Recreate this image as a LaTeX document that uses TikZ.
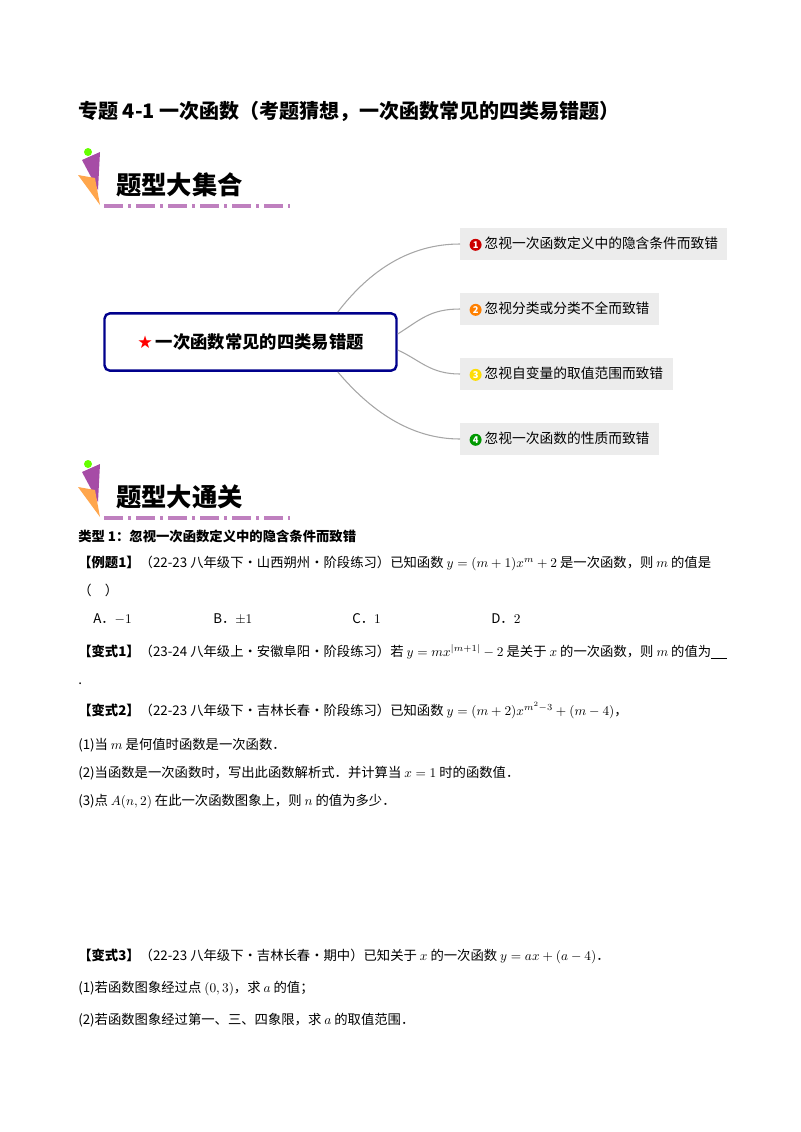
\documentclass[tikz,border=0pt]{standalone}
\usepackage{fontspec}
\setmainfont{Noto Sans CJK SC}
\newfontfamily\djvfont{DejaVu Sans}
\usetikzlibrary{calc}
\begin{document}
\begin{tikzpicture}[x=0.75pt,y=-0.75pt,
  txt/.style={anchor=base west,inner sep=0,font=\fontsize{10pt}{12pt}\selectfont},
  bx/.style={fill=gray!15,anchor=west,minimum height=24pt,inner xsep=7pt,font=\fontsize{10.3pt}{12pt}\selectfont},
  num/.style={circle,fill=#1,text=white,inner sep=0.6pt,minimum size=9pt,minimum height=9pt,font=\fontsize{7pt}{8pt}\selectfont\bfseries},
  br/.style={draw=gray!70,line width=0.8pt},
  hdr/.style={anchor=base west,inner sep=0,font=\fontsize{19pt}{20pt}\selectfont\bfseries}]
\useasboundingbox (0,0) rectangle (800,1132);
\node[anchor=base west,inner sep=0,font=\fontsize{15pt}{18pt}\selectfont\bfseries] (title) at (78,118) {专题 4-1 一次函数（考题猜想，一次函数常见的四类易错题）};
\foreach \yy/\tx/\nm in {150/题型大集合/h1,462/题型大通关/h2}{
  \fill[violet!70] (82,\yy+10) -- (100,\yy+2) -- (98,\yy+40) -- cycle;
  \fill[orange!70] (78,\yy+25) -- (95,\yy+28) -- (100,\yy+55) -- cycle;
  \fill[green!60!yellow] (88,\yy+2) circle (4);
  \draw[violet!50,line width=2.5pt,dash pattern=on 14pt off 4pt on 2pt off 4pt] (104,\yy+56) -- (290,\yy+56);
  \node[hdr] (\nm) at (116,\yy+44) {\tx};
}
\node[draw=blue!55!black,line width=1.8pt,rounded corners=4pt,minimum width=219pt,minimum height=43pt,font=\fontsize{13pt}{15pt}\selectfont\bfseries] (root) at (250.5,342) {{\djvfont\color{red}★}\,一次函数常见的四类易错题};
\node[bx] (b1) at (460,244) {\tikz[baseline=-3pt]\node[num=red!80!black]{1};\ 忽视一次函数定义中的隐含条件而致错};
\node[bx] (b2) at (460,309) {\tikz[baseline=-3pt]\node[num=orange]{2};\ 忽视分类或分类不全而致错};
\node[bx] (b3) at (460,374) {\tikz[baseline=-3pt]\node[num=yellow!80!orange]{3};\ 忽视自变量的取值范围而致错};
\node[bx] (b4) at (460,439) {\tikz[baseline=-3pt]\node[num=green!60!black]{4};\ 忽视一次函数的性质而致错};
\draw[br] (root.north east) ++(-60,0) .. controls (370,270) and (410,244) .. (b1.west);
\draw[br] (root.east) ++(0,-8) .. controls (420,320) and (430,309) .. (b2.west);
\draw[br] (root.east) ++(0,8) .. controls (420,360) and (430,374) .. (b3.west);
\draw[br] (root.south east) ++(-60,0) .. controls (370,410) and (410,439) .. (b4.west);
\node[txt,font=\fontsize{10pt}{12pt}\selectfont\bfseries] (t1) at (78,541) {类型 1：忽视一次函数定义中的隐含条件而致错};
\node[txt] (e1) at (78,567) {\textbf{【例题1】}（22-23 八年级下·山西朔州·阶段练习）已知函数 $y=(m+1)x^{m}+2$ 是一次函数，则 $m$ 的值是};
\node[txt] (e1b) at (78,595) {（\quad ）};
\node[txt] (oa) at (93,623) {A．$-1$};
\node[txt] (ob) at (213,623) {B．$\pm1$};
\node[txt] (oc) at (352,623) {C．$1$};
\node[txt] (od) at (491,623) {D．$2$};
\node[txt] (v1) at (78,656) {\textbf{【变式1】}（23-24 八年级上·安徽阜阳·阶段练习）若 $y=mx^{|m+1|}-2$ 是关于 $x$ 的一次函数，则 $m$ 的值为\rule[-2pt]{12pt}{0.5pt}};
\node[txt] (v1b) at (78,684) {.};
\node[txt] (v2) at (78,715) {\textbf{【变式2】}（22-23 八年级下·吉林长春·阶段练习）已知函数 $y=(m+2)x^{m^2-3}+(m-4)$，};
\node[txt] (v2a) at (78,749) {(1)当 $m$ 是何值时函数是一次函数．};
\node[txt] (v2b) at (78,777) {(2)当函数是一次函数时，写出此函数解析式．并计算当 $x=1$ 时的函数值．};
\node[txt] (v2c) at (78,805) {(3)点 $A(n,2)$ 在此一次函数图象上，则 $n$ 的值为多少．};
\node[txt] (v3) at (78,960) {\textbf{【变式3】}（22-23 八年级下·吉林长春·期中）已知关于 $x$ 的一次函数 $y=ax+(a-4)$．};
\node[txt] (v3a) at (78,992) {(1)若函数图象经过点 $(0,3)$，求 $a$ 的值；};
\node[txt] (v3b) at (78,1024) {(2)若函数图象经过第一、三、四象限，求 $a$ 的取值范围．};
\end{tikzpicture}
\end{document}
